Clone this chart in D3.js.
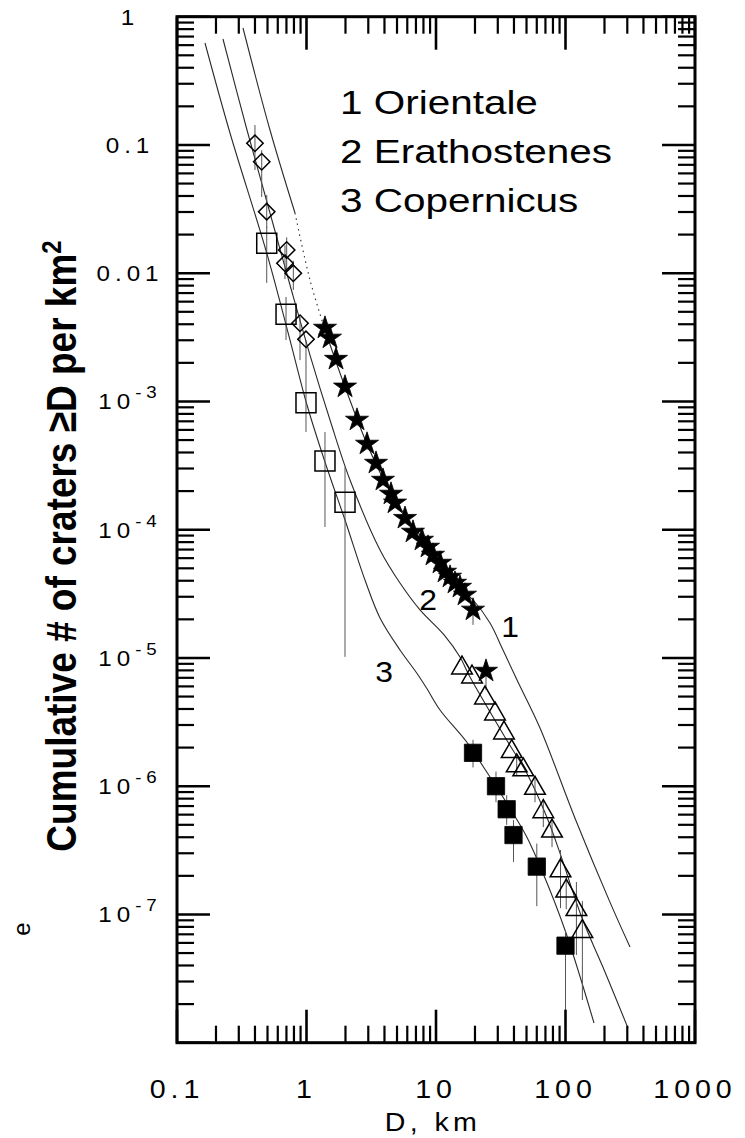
<!DOCTYPE html>
<html>
<head>
<meta charset="utf-8">
<script src="https://cdn.jsdelivr.net/npm/d3@7"></script>
<style>
  body { margin: 0; background: #fff; }
  svg { display: block; font-family: "Liberation Sans", Arial, Helvetica, sans-serif; }
</style>
</head>
<body>
<svg id="chart" width="745" height="1138"></svg>
<script>
// ---- axis ticks / labels ----
const xMajorTicks = [0.1, 1, 10, 100, 1000];
const xTickLabels = ["0.1", "1", "10", "100", "1000"];
const yMajorTicks = [1, 0.1, 0.01, 1e-3, 1e-4, 1e-5, 1e-6, 1e-7, 1e-8];
const yLabelBase = ["1", "0.1", "0.01", "10", "10", "10", "10", "10"];
const yLabelExp = ["", "", "", "-3", "-4", "-5", "-6", "-7"];

const legendLines = ["1 Orientale", "2 Erathostenes", "3 Copernicus"];
const curveNames = ["1", "2", "3"];

// ---- model curves [D km, N per km2] ----
const curveOrientale = [
  [0.3233, 0.8164], [0.5225, 0.1308], [0.8150, 0.02947], [1.064, 8.85e-3],
  [1.389, 3.61e-3], [1.983, 1.30e-3], [2.933, 4.66e-4], [3.967, 2.44e-4],
  [5.973, 1.23e-4], [8.989, 7.20e-5], [11.74, 4.76e-5], [15.32, 3.51e-5],
  [19.65, 2.78e-5], [26.12, 1.87e-5], [32.91, 1.153e-5], [42.23, 6.73e-6],
  [63.55, 2.84e-6], [119.9, 5.45e-7], [218.7, 1.27e-7], [314.8, 5.57e-8]
];
const curveErathostenes = [
  [0.2265, 0.670], [0.3471, 0.1308], [0.5225, 0.02947], [0.7457, 8.09e-3],
  [1.064, 2.30e-3], [1.519, 7.17e-4], [2.168, 2.44e-4], [3.695, 6.95e-5],
  [5.272, 3.84e-5], [7.523, 2.37e-5], [11.5, 1.52e-5], [15.32, 1.017e-5],
  [18.30, 7.10e-6], [35.14, 2.29e-6], [50.15, 1.267e-6], [71.58, 5.78e-7],
  [90.7, 3.01e-7], [134.1, 9.38e-8], [201.8, 3.56e-8], [303.8, 1.30e-8]
];
const curveCopernicus = [
  [0.1645, 0.6236], [0.2566, 0.1239], [0.493, 0.01437], [0.7457, 3.01e-3],
  [1.009, 9.38e-4], [1.389, 3.37e-4], [1.983, 1.19e-4], [2.829, 4.05e-5],
  [3.695, 2.05e-5], [5.272, 1.153e-5], [7.096, 7.63e-6], [8.476, 5.80e-6],
  [10.74, 3.93e-6], [17.26, 2.21e-6], [23.19, 1.419e-6], [35.14, 7.40e-7],
  [50.15, 4.04e-7], [65.84, 2.19e-7], [100, 7.36e-8], [166.0, 1.424e-8]
];
// part of curve 1 drawn dotted
const dottedRange = [0.815, 1.389];

// ---- measured counts ----
const diamondD = [0.400, 0.451, 0.493, 0.703, 0.682, 0.791, 0.891, 0.991];
const diamondN = [0.1030, 0.0740, 0.0302, 0.01517, 0.01195, 0.00998, 0.00407, 0.00305];

const openSquareD = [0.493, 0.695, 0.991, 1.389, 1.983];
const openSquareN = [0.0171, 0.00478, 9.78e-4, 3.43e-4, 1.64e-4];

const starD = [1.389, 1.519, 1.690, 1.983, 2.455, 2.933, 3.441, 3.896, 4.492, 4.825, 5.764,
  6.643, 7.796, 8.676, 9.48, 10.74, 11.74, 12.83, 14.02, 15.32, 16.75, 19.31, 24.33];
const starN = [3.74e-3, 3.13e-3, 2.14e-3, 1.30e-3, 7.17e-4, 4.66e-4, 3.31e-4, 2.44e-4, 1.90e-4,
  1.62e-4, 1.23e-4, 9.60e-5, 8.31e-5, 7.33e-5, 6.35e-5, 5.50e-5, 4.68e-5, 4.28e-5, 3.84e-5,
  3.57e-5, 3.10e-5, 2.37e-5, 7.91e-6];

const triangleD = [15.88, 18.97, 23.90, 28.55, 33.50, 38.42, 42.0, 47.2, 58.15, 67.4, 78.7,
  91.5, 101.3, 121.4, 135.0];
const triangleN = [8.35e-6, 7.10e-6, 4.87e-6, 3.66e-6, 2.60e-6, 1.86e-6, 1.44e-6, 1.34e-6,
  9.63e-7, 6.33e-7, 4.47e-7, 2.19e-7, 1.52e-7, 1.09e-7, 7.36e-8];

const filledSquareD = [19.31, 29.06, 35.14, 39.67, 60.03, 100];
const filledSquareN = [1.82e-6, 1.00e-6, 6.61e-7, 4.16e-7, 2.36e-7, 5.71e-8];

// error bars [D, low, high]
const errorBars = [
  [0.400, 0.0638, 0.143], [0.451, 0.0393, 0.0910], [0.493, 0.0225, 0.0407],
  [0.493, 0.0084, 0.0230], [0.682, 0.0090, 0.0165], [0.703, 0.0105, 0.0190],
  [0.791, 0.0074, 0.0125], [0.695, 0.00301, 0.00652], [0.891, 0.0021, 0.00455],
  [0.991, 5.78e-4, 3.01e-3], [1.389, 1.05e-4, 5.78e-4], [1.983, 1.02e-5, 3.08e-4],
  [19.31, 1.81e-5, 2.6e-5], [24.33, 5.62e-6, 9.64e-6],
  [42.0, 1.2e-6, 1.7e-6], [58.15, 7.5e-7, 1.2e-6], [67.4, 4.8e-7, 8.0e-7],
  [78.7, 3.35e-7, 5.45e-7], [91.5, 1.12e-7, 3.18e-7], [101.3, 1.1e-7, 2.0e-7],
  [121.4, 4.83e-8, 1.79e-7], [135.0, 2.15e-8, 1.27e-7],
  [19.31, 1.4e-6, 2.3e-6], [29.06, 7.5e-7, 1.3e-6], [35.14, 5.0e-7, 8.5e-7],
  [39.67, 2.57e-7, 5.45e-7], [60.03, 1.16e-7, 3.57e-7], [100, 1e-8, 7.43e-8]
];

const plot = { left: 177, right: 695, top: 16.7, bottom: 1042.7 };
const svg = d3.select("#chart");
const xScale = d3.scaleLog().domain([0.1, 1000]).range([plot.left, plot.right]);
const yScale = d3.scaleLog().domain([1e-8, 1]).range([plot.bottom, plot.top]);

// ---- curves ----
const line = d3.line()
  .x(d => xScale(d[0]))
  .y(d => yScale(d[1]))
  .curve(d3.curveCatmullRom.alpha(0.5));

const drawCurve = (pts, dash) => {
  const path = svg.append("path").attr("d", line(pts))
    .attr("fill", "none").attr("stroke", "#2a2a2a").attr("stroke-width", 1.1);
  if (dash) path.attr("stroke-dasharray", dash);
};
drawCurve(curveOrientale.filter(d => d[0] <= dottedRange[0]));
drawCurve(curveOrientale.filter(d => d[0] >= dottedRange[0] && d[0] <= dottedRange[1]), "1.5,4");
drawCurve(curveOrientale.filter(d => d[0] >= dottedRange[1]));
drawCurve(curveErathostenes);
drawCurve(curveCopernicus);

// ---- error bars ----
errorBars.forEach(b => {
  svg.append("line")
    .attr("x1", xScale(b[0])).attr("x2", xScale(b[0]))
    .attr("y1", yScale(b[1])).attr("y2", yScale(b[2]))
    .attr("stroke", "#555").attr("stroke-width", 1);
});

// ---- markers ----
const addMarks = (ds, ns, type, size, fill, rot) => {
  ds.forEach((dv, i) => {
    svg.append("path")
      .attr("d", d3.symbol().type(type).size(size)())
      .attr("transform", `translate(${xScale(dv)},${yScale(ns[i])})` + (rot ? ` rotate(${rot})` : ""))
      .attr("fill", fill ? "#000" : "none")
      .attr("stroke", "#000")
      .attr("stroke-width", fill ? 0.8 : 1.5);
  });
};
addMarks(diamondD, diamondN, d3.symbolSquare, 135, false, 45);
addMarks(openSquareD, openSquareN, d3.symbolSquare, 400, false, 0);
addMarks(starD, starN, d3.symbolStar, 165, true, 0);
addMarks(triangleD, triangleN, d3.symbolTriangle, 185, false, 0);
addMarks(filledSquareD, filledSquareN, d3.symbolSquare, 300, true, 0);

// ---- text ----
const put = (x, y, size, sx, anchor) => svg.append("g")
  .attr("transform", `translate(${x},${y}) scale(${sx},1)`)
  .append("text")
  .attr("text-anchor", anchor)
  .style("font-size", size + "px");

xMajorTicks.forEach((v, i) => {
  put(xScale(v), 1098, 26, 1.1, "middle")
    .style("letter-spacing", "4.5px").text(xTickLabels[i]);
});
put(433, 1131, 26, 1.1, "middle").style("letter-spacing", "4px").text("D, km");

yLabelBase.forEach((b, i) => {
  const t = put(130, yScale(yMajorTicks[i]) + 8, 22, 1.1, "middle")
    .style("letter-spacing", "4.5px");
  t.append("tspan").text(b);
  if (yLabelExp[i]) {
    t.append("tspan").attr("dy", -11).style("font-size", "17px").text(yLabelExp[i]);
  }
});

const yt = svg.append("text")
  .attr("transform", "translate(76,546) rotate(-90) scale(1,1.15)")
  .attr("text-anchor", "middle")
  .style("font-size", "37px").style("font-weight", "bold")
  .text("Cumulative # of craters \u2265D per km");
yt.append("tspan").attr("dy", -13).style("font-size", "24px").text("2");

// clipped fragment at far left
svg.append("text")
  .attr("transform", "translate(30,929) rotate(-90)")
  .attr("text-anchor", "middle")
  .style("font-size", "24px").text("e");

legendLines.forEach((s, i) => {
  put(340, 114 + i * 49, 34, 1.19, "start").text(s);
});

const labelPos = [[510, 637], [428, 610], [384, 682]];
curveNames.forEach((s, i) => {
  put(labelPos[i][0], labelPos[i][1], 29, 1.1, "middle").text(s);
});

// ---- frame and inward ticks on all four sides ----
const isDecade = d => Math.abs(Math.log10(d) - Math.round(Math.log10(d))) < 1e-6;
const xMinor = xScale.ticks().filter(d => !isDecade(d));
const yMinor = yScale.ticks().filter(d => !isDecade(d));

const tickLine = (x1, y1, x2, y2, w) => svg.append("line")
  .attr("x1", x1).attr("y1", y1).attr("x2", x2).attr("y2", y2)
  .attr("stroke", "#000").attr("stroke-width", w);

[[xMinor, 17, 2.2], [xMajorTicks, 33, 2.6]].forEach(([vals, len, w]) => {
  vals.forEach(v => {
    const px = xScale(v);
    tickLine(px, plot.bottom, px, plot.bottom - len, w);
    tickLine(px, plot.top, px, plot.top + len, w);
  });
});
[[yMinor, 17, 2.2], [yMajorTicks, 33, 2.6]].forEach(([vals, len, w]) => {
  vals.forEach(v => {
    const py = yScale(v);
    tickLine(plot.left, py, plot.left + len, py, w);
    tickLine(plot.right, py, plot.right - len, py, w);
  });
});

svg.append("rect")
  .attr("x", plot.left).attr("y", plot.top)
  .attr("width", plot.right - plot.left).attr("height", plot.bottom - plot.top)
  .attr("fill", "none").attr("stroke", "#000").attr("stroke-width", 3);
</script>
</body>
</html>
